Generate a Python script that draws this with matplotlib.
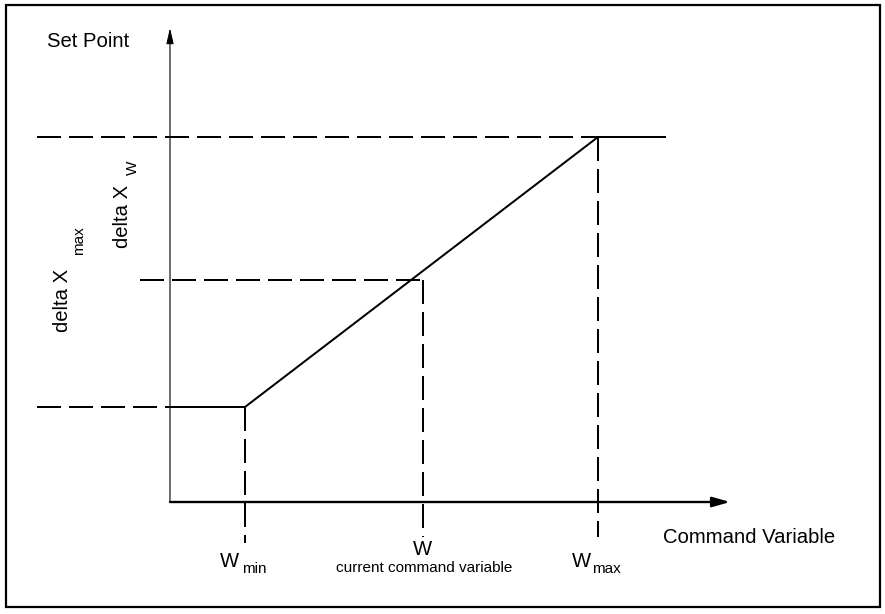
import matplotlib
matplotlib.use("Agg")
import matplotlib.pyplot as plt
from matplotlib.patches import Rectangle

plt.rcParams['font.family'] = ['Liberation Sans', 'DejaVu Sans']

# ---- data (diagram coordinates, origin at the axes crossing) ----
w_min, w_cur, w_max = 75, 253, 428          # command variable positions
x_low, x_w, x_max = 95, 222, 365            # set point levels
curve_x = [0, w_min, w_max, 495]
curve_y = [x_low, x_low, x_max, x_max]
x_axis_end = 560
y_axis_end = 474
dash_left = -133      # where long horizontal guides start
dash_mid_left = -30   # where the W guide starts
guide_bottom = [-41, -35, -35]  # bottom ends of vertical guides (min, cur, max)

fig = plt.figure(figsize=(8.85, 6.14), dpi=100)
ax = fig.add_axes([0, 0, 1, 1])
ax.set_xlim(-170, 715)
ax.set_ylim(-112, 502)
ax.axis('off')

lw = 1.44
dash = (0, (12, 4))

# dashed guides
ax.plot([dash_left, w_max], [x_max, x_max], color='black', lw=lw, linestyle=dash)
ax.plot([dash_left, 0], [x_low, x_low], color='black', lw=lw, linestyle=dash)
ax.plot([dash_mid_left, w_cur], [x_w, x_w], color='black', lw=lw, linestyle=dash)
for xv, yv, yb in zip([w_min, w_cur, w_max], [x_low, x_w, x_max], guide_bottom):
    ax.plot([xv, xv], [yv, yb], color='black', lw=lw, linestyle=dash)

# characteristic curve
ax.plot(curve_x, curve_y, color='black', lw=lw, solid_joinstyle='miter')

# axes with arrows
ax.annotate('', xy=(x_axis_end, 0), xytext=(0, 0),
            arrowprops=dict(arrowstyle='-|>,head_length=10.5,head_width=3',
                            mutation_scale=1, lw=1.7, color='black',
                            shrinkA=0, shrinkB=0))
ax.annotate('', xy=(0, y_axis_end), xytext=(0, 0),
            arrowprops=dict(arrowstyle='-|>,head_length=9.5,head_width=2.2',
                            mutation_scale=1, lw=0.8, color='black',
                            shrinkA=0, shrinkB=0))

big = 14.6
small = 11
kw = dict(color='black', rotation_mode='anchor')

ax.text(-123, 455, 'Set Point', fontsize=big, ha='left', va='baseline', **kw)
ax.text(493, -41, 'Command Variable', fontsize=big, ha='left', va='baseline', **kw)

# W labels
ax.text(50, -65, 'W', fontsize=big, ha='left', va='baseline', **kw)
ax.text(72, -71, 'min', fontsize=small, ha='left', va='baseline', **kw)
ax.text(402, -65, 'W', fontsize=big, ha='left', va='baseline', **kw)
ax.text(422, -71, 'max', fontsize=small, ha='left', va='baseline', **kw)
ax.text(252.5, -53, 'W', fontsize=big, ha='center', va='baseline', **kw)
ax.text(254, -70, 'current command variable', fontsize=small, ha='center', va='baseline', **kw)

# rotated delta labels
ax.text(-102, 170, 'delta X', fontsize=big, rotation=90, ha='left', va='baseline', **kw)
ax.text(-87, 247, 'max', fontsize=small, rotation=90, ha='left', va='baseline', **kw)
ax.text(-42, 254, 'delta X', fontsize=big, rotation=90, ha='left', va='baseline', **kw)
ax.text(-33, 327, 'W', fontsize=small, rotation=90, ha='left', va='baseline', **kw)

# outer frame
W, H = 885, 614
fig.patches.append(Rectangle((6 / W, (H - 607) / H), (880 - 6) / W, (607 - 5) / H,
                             transform=fig.transFigure, fill=False,
                             edgecolor='black', lw=1.6))

fig.savefig('out.png', dpi=100)
